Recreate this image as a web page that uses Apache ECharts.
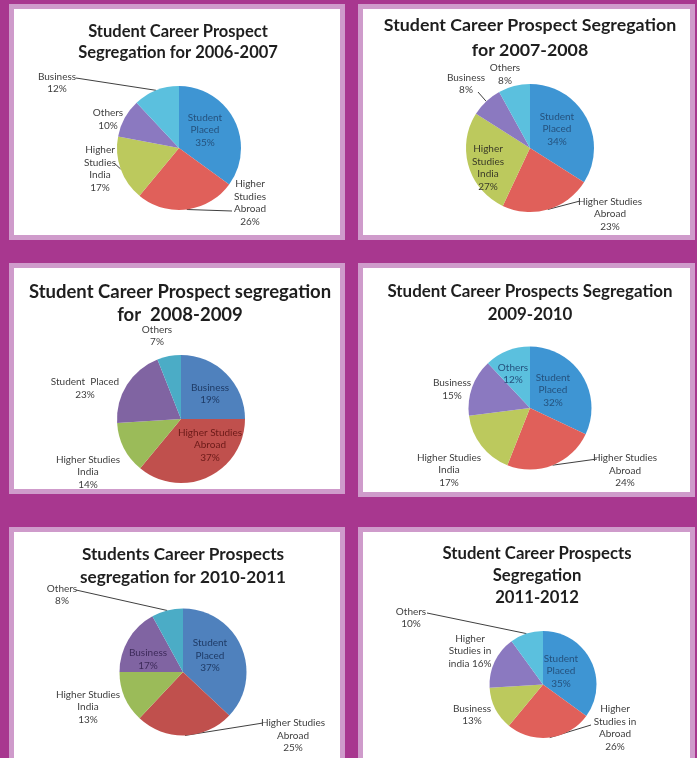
<!DOCTYPE html>
<html>
<head>
<meta charset="utf-8">
<title>Student Career Prospect Segregation</title>
<script src="https://cdn.jsdelivr.net/npm/echarts@6/dist/echarts.min.js"></script>
<style>
  html, body { margin: 0; padding: 0; background: #a8378f; }
  #chart { width: 697px; height: 758px; }
</style>
</head>
<body>
<div id="chart"></div>
<script>
// ---- data (clockwise from 12 o'clock) ----
// label text: {v} is replaced by the printed percentage

const title0607 = 'Student Career Prospect\nSegregation for 2006-2007';
const cats0607 = ['Student Placed', 'Higher Studies Abroad', 'Higher Studies India', 'Others', 'Business'];
const text0607 = ['Student\nPlaced\n{v}%', 'Higher\nStudies\nAbroad\n{v}%', 'Higher\nStudies\nIndia\n{v}%', 'Others\n{v}%', 'Business\n{v}%'];
const vals0607 = [35, 26, 17, 10, 12];

const title0708 = 'Student Career Prospect Segregation\nfor 2007-2008';
const cats0708 = ['Student Placed', 'Higher Studies Abroad', 'Higher Studies India', 'Business', 'Others'];
const text0708 = ['Student\nPlaced\n{v}%', 'Higher Studies\nAbroad\n{v}%', 'Higher\nStudies\nIndia\n{v}%', 'Business\n{v}%', 'Others\n{v}%'];
const vals0708 = [34, 23, 27, 8, 8];

const title0809 = 'Student Career Prospect segregation\nfor  2008-2009';
const cats0809 = ['Business', 'Higher Studies Abroad', 'Higher Studies India', 'Student Placed', 'Others'];
const text0809 = ['Business\n{v}%', 'Higher Studies\nAbroad\n{v}%', 'Higher Studies\nIndia\n{v}%', 'Student  Placed\n{v}%', 'Others\n{v}%'];
const pct0809 = [19, 37, 14, 23, 7];
// in this one the drawn slices do not follow the printed labels; sizes as drawn
const vals0809 = [25, 36, 13, 20, 6];

const title0910 = 'Student Career Prospects Segregation\n2009-2010';
const cats0910 = ['Student Placed', 'Higher Studies Abroad', 'Higher Studies India', 'Business', 'Others'];
const text0910 = ['Student\nPlaced\n{v}%', 'Higher Studies\nAbroad\n{v}%', 'Higher Studies\nIndia\n{v}%', 'Business\n{v}%', 'Others\n{v}%'];
const vals0910 = [32, 24, 17, 15, 12];

const title1011 = 'Students Career Prospects\nsegregation for 2010-2011';
const cats1011 = ['Student Placed', 'Higher Studies Abroad', 'Higher Studies India', 'Business', 'Others'];
const text1011 = ['Student\nPlaced\n{v}%', 'Higher Studies\nAbroad\n{v}%', 'Higher Studies\nIndia\n{v}%', 'Business\n{v}%', 'Others\n{v}%'];
const vals1011 = [37, 25, 13, 17, 8];

const title1112 = 'Student Career Prospects\nSegregation\n2011-2012';
const cats1112 = ['Student Placed', 'Higher Studies in Abroad', 'Business', 'Higher Studies in india', 'Others'];
const text1112 = ['Student\nPlaced\n{v}%', 'Higher\nStudies in\nAbroad\n{v}%', 'Business\n{v}%', 'Higher\nStudies in\nindia {v}%', 'Others\n{v}%'];
const vals1112 = [35, 26, 13, 16, 10];

// ---- look ----
const bright = ['#3e95d3', '#e0605a', '#bcc95d', '#8b79c0', '#5bc0de'];
const office = ['#4f81bd', '#c0504d', '#9bbb59', '#8064a2', '#4bacc6'];
const TXT = '#404040';
const FONT = 'Lato';

// panel box, title [x, top, lineHeight, size], pie centre/radius, label centres, label-line ends, label colours
const panels = [
  { box: [11.5, 6.5, 331, 231], title: [178, 21.5, 21, 16.5], center: [179, 148], r: 62,
    labels: [[205, 130], [250, 203], [100, 169], [108, 119.5], [57, 83]],
    lines: [null, [232, 211], [114, 163], null, [76, 78]],
    tcol: ['#25527e', TXT, TXT, TXT, TXT] },
  { box: [360.5, 6.5, 332, 231], title: [530, 13, 25, 17.8], center: [530, 148], r: 64,
    labels: [[557, 129], [610, 214], [488, 168], [466, 84], [505, 74.5]],
    lines: [null, [580, 201], null, [478, 92], null],
    tcol: ['#25527e', TXT, '#3a3a28', TXT, TXT] },
  { box: [11.5, 265.5, 331, 226], title: [180, 280.5, 23, 18.5], center: [181, 419], r: 64,
    labels: [[210, 394], [210, 445], [88, 472], [85, 388.5], [157, 336]],
    lines: [null, null, null, null, null],
    tcol: ['#1f3b66', '#6b1a18', TXT, TXT, TXT] },
  { box: [360.5, 265.5, 332, 229], title: [530, 280.5, 23, 16.9], center: [530, 408], r: 61.5,
    labels: [[553, 390], [625, 470.5], [449, 470], [452, 389.5], [513, 374]],
    lines: [null, [597, 459], null, null, null],
    tcol: ['#25527e', TXT, TXT, TXT, '#25527e'] },
  { box: [11.5, 529.5, 331, 240], title: [183, 542.5, 23, 17.2], center: [183, 672], r: 63.5,
    labels: [[210, 655.5], [293, 735.5], [88, 707], [148, 659.5], [62, 595]],
    lines: [null, [263, 723], null, null, [76, 590]],
    tcol: ['#1f3b66', TXT, TXT, '#3d2a5a', TXT] },
  { box: [360.5, 529.5, 332, 240], title: [537, 543, 22, 16.7], center: [543, 684.5], r: 53.5,
    labels: [[561, 671], [615, 728], [472, 715], [470, 651], [411, 618]],
    lines: [null, [591, 725], null, null, [427, 613]],
    tcol: ['#25527e', TXT, TXT, TXT, TXT] }
];

const sets = [
  { title: title0607, cats: cats0607, text: text0607, vals: vals0607, pct: vals0607, colors: bright },
  { title: title0708, cats: cats0708, text: text0708, vals: vals0708, pct: vals0708, colors: bright },
  { title: title0809, cats: cats0809, text: text0809, vals: vals0809, pct: pct0809, colors: office },
  { title: title0910, cats: cats0910, text: text0910, vals: vals0910, pct: vals0910, colors: bright },
  { title: title1011, cats: cats1011, text: text1011, vals: vals1011, pct: vals1011, colors: office },
  { title: title1112, cats: cats1112, text: text1112, vals: vals1112, pct: vals1112, colors: bright }
];

// start of a label line: middle of the slice's rim
function rimPoint(set, L, i) {
  const total = set.vals.reduce((a, b) => a + b, 0);
  let before = 0;
  for (let k = 0; k < i; k++) before += set.vals[k];
  const a = (before + set.vals[i] / 2) / total * Math.PI * 2;
  return [L.center[0] + L.r * Math.sin(a), L.center[1] - L.r * Math.cos(a)];
}

const chart = echarts.init(document.getElementById('chart'), null, { renderer: 'canvas' });

const graphics = panels.map(L => ({
  type: 'rect', z: -10, silent: true,
  shape: { x: L.box[0], y: L.box[1], width: L.box[2], height: L.box[3] },
  style: { fill: '#ffffff', stroke: '#cf9bcb', lineWidth: 5 }
}));

const titles = sets.map((s, n) => {
  const t = panels[n].title;
  return {
    text: s.title, left: t[0], top: t[1], textAlign: 'center', padding: 0,
    textStyle: { fontFamily: FONT, fontWeight: 'bold', fontSize: t[3], lineHeight: t[2], color: '#1e1e1e' }
  };
});

const series = sets.map((s, n) => {
  const L = panels[n];
  return {
    type: 'pie',
    center: L.center,
    radius: L.r,
    startAngle: 90,
    clockwise: true,
    avoidLabelOverlap: false,
    animation: false,
    silent: true,
    emphasis: { disabled: true },
    itemStyle: { borderWidth: 0 },
    label: {
      show: true, position: 'outside', fontFamily: FONT, fontSize: 10, lineHeight: 12.5,
      color: TXT
    },
    labelLine: { show: false },
    labelLayout: function (p) {
      const pos = L.labels[p.dataIndex];
      const out = { x: pos[0], y: pos[1], align: 'center', verticalAlign: 'middle' };
      const end = L.lines[p.dataIndex];
      if (end) out.labelLinePoints = [rimPoint(s, L, p.dataIndex), end];
      return out;
    },
    data: s.cats.map((c, i) => ({
      name: c,
      value: s.vals[i],
      itemStyle: { color: s.colors[i] },
      label: {
        formatter: s.text[i].replace('{v}', s.pct[i]),
        color: L.tcol[i]
      },
      labelLine: L.lines[i]
        ? { show: true, length: 4, length2: 4, lineStyle: { color: '#404040', width: 1 } }
        : { show: false }
    }))
  };
});

chart.setOption({
  backgroundColor: '#a8378f',
  animation: false,
  graphic: graphics,
  title: titles,
  series: series
});
</script>
</body>
</html>
